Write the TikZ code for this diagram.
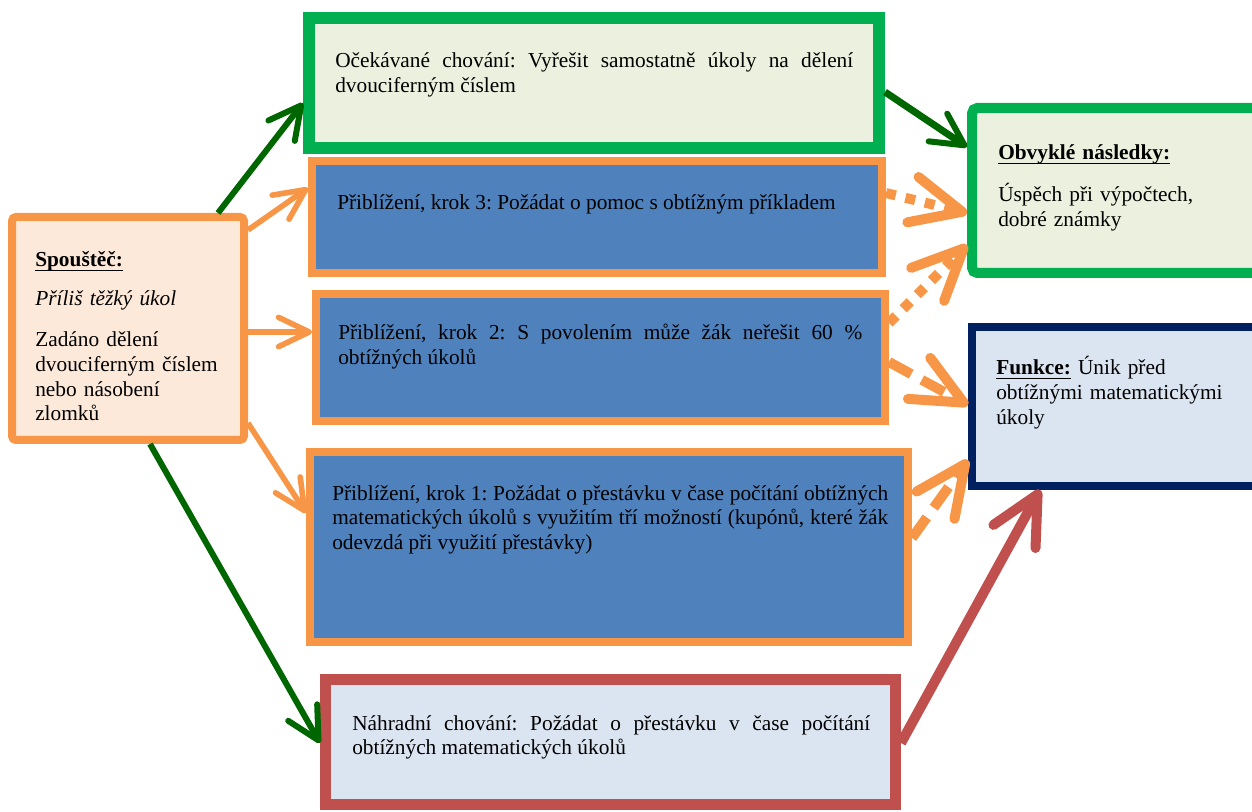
\documentclass[tikz,border=0pt]{standalone}
\usepackage{fontspec}
\setmainfont{Liberation Serif}
\usepackage{tikz}
\usetikzlibrary{arrows.meta}
\usetikzlibrary{fit}
\usetikzlibrary{calc}
\definecolor{boxorange}{RGB}{247,150,70}
\definecolor{boxpeach}{RGB}{253,233,217}
\definecolor{boxgreen}{RGB}{0,176,80}
\definecolor{palegreen}{RGB}{235,241,222}
\definecolor{boxblue}{RGB}{79,129,189}
\definecolor{boxred}{RGB}{192,80,77}
\definecolor{paleblue}{RGB}{219,229,241}
\definecolor{boxnavy}{RGB}{0,32,96}
\definecolor{arrgreen}{RGB}{0,102,0}
\hyphenpenalty=10000
\exhyphenpenalty=10000
\frenchspacing
\newcommand{\headline}[1]{\setbox0\hbox{\textbf{#1}}\rlap{\rule[-3pt]{\wd0}{1.1pt}}\box0\relax}

\tikzset{
  trigbox/.style={draw=boxorange, fill=boxpeach, line width=6pt, rounded corners=3pt, inner sep=0pt},
  goalbox/.style={draw=boxgreen, fill=palegreen, line width=9pt, inner sep=0pt},
  stepbox/.style={draw=boxorange, fill=boxblue, line width=6pt, inner sep=0pt},
  subsbox/.style={draw=boxred, fill=paleblue, line width=8.25pt, inner sep=0pt},
  resultbox/.style={draw=boxgreen, fill=palegreen, line width=7.5pt, rounded corners=4pt, inner sep=0pt},
  funcbox/.style={draw=boxnavy, fill=paleblue, line width=6pt, inner sep=0pt},
  txt/.style={anchor=base west, inner sep=0pt, font=\fontsize{16}{18.5}\selectfont},
  greenarrow/.style={draw=arrgreen, line width=4.5pt, -{Straight Barb[length=24pt,width=25pt,line width=4.5pt,round]}},
  orangearrow/.style={draw=boxorange, line width=4.2pt, -{Straight Barb[length=23pt,width=22pt,line width=4.2pt,round]}},
  dotarrow/.style={draw=boxorange, line width=7.5pt, dash pattern=on 7.5pt off 7.5pt, -{Straight Barb[length=38pt,width=35pt,line width=7.5pt,round]}},
  dasharrow/.style={draw=boxorange, line width=7.5pt, dash pattern=on 19pt off 9pt, -{Straight Barb[length=38pt,width=35pt,line width=7.5pt,round]}},
  redarrow/.style={draw=boxred, line width=7.5pt, -{Straight Barb[length=36pt,width=36pt,line width=7.5pt,round]}}
}

\begin{document}
\begin{tikzpicture}[x=0.75pt,y=0.75pt,yscale=-1,xscale=1]
  \useasboundingbox (0,0) rectangle (1252,812);
  \clip (0,0) rectangle (1252,812);
  %Shape: Rectangle (trigger)
  \node [trigbox, fit={(12,217) (244,440)}] (trig) {};
  %Shape: Rectangle (expected behaviour)
  \node [goalbox, fit={(309,18) (879,148)}] (expect) {};
  %Shape: Rectangle (steps)
  \node [stepbox, fit={(312,161) (882,273)}] (step3) {};
  \node [stepbox, fit={(316,294) (885,421)}] (step2) {};
  \node [stepbox, fit={(310,452) (908,642)}] (step1) {};
  %Shape: Rectangle (replacement behaviour)
  \node [subsbox, fit={(325.5,679.5) (895.5,804.5)}] (subst) {};
  %Shape: Rectangle (consequences)
  \node [resultbox, fit={(972,108) (1262,273)}] (result) {};
  %Shape: Rectangle (function)
  \node [funcbox, fit={(972,327) (1262,486)}] (func) {};

  % Text Node
  \draw (35,267) node [txt, text width=146pt, align=left] (trigtxt) {\headline{Spouštěč:}\\[10.75pt] \textit{Příliš těžký úkol}\\[12.25pt] Zadáno dělení dvouciferným číslem nebo násobení zlomků};
  % Text Node
  \draw (335,68) node [txt, text width=388.5pt, align=justify] (expecttxt) {Očekávané chování: Vyřešit samostatně úkoly na dělení dvouciferným číslem};
  % Text Node
  \draw (337,210) node [txt, text width=405pt, align=justify] (step3txt) {Přiblížení, krok 3: Požádat o pomoc s obtížným příkladem};
  % Text Node
  \draw (338,340) node [txt, text width=393pt, align=justify] (step2txt) {Přiblížení, krok 2: S povolením může žák neřešit 60 \% obtížných úkolů};
  % Text Node
  \draw (332,500) node [txt, text width=417pt, align=justify] (step1txt) {Přiblížení, krok 1: Požádat o přestávku v čase počítání obtížných matematických úkolů s využitím tří možností (kupónů, které žák odevzdá při využití přestávky)};
  % Text Node
  \draw (352,730) node [txt, text width=388.5pt, align=justify] (substtxt) {Náhradní chování: Požádat o přestávku v čase počítání obtížných matematických úkolů};
  % Text Node
  \draw (998,160) node [txt, text width=161pt, align=left] (resulttxt) {\headline{Obvyklé následky:}\\[13pt] Úspěch při výpočtech, dobré známky};
  % Text Node
  \draw (996,375) node [txt, text width=176pt, align=left] (functxt) {\headline{Funkce:} Únik před obtížnými matematickými úkoly};

  %Straight Lines
  \draw [greenarrow] (trig.north -| 218,0) -- (expect.west |- 0,103);
  \draw [orangearrow] (trig.east |- 0,230) -- (step3.west |- 0,188);
  \draw [orangearrow] (trig.east |- 0,332) -- (step2.west |- 0,332);
  \draw [orangearrow] (trig.east |- 0,423) -- (step1.west |- 0,513);
  \draw [greenarrow] (trig.south -| 150,0) -- (subst.west |- 0,743);
  %Straight Lines
  \draw [greenarrow, line width=5.25pt] (expect.east |- 0,92) -- (result.west |- 0,147);
  \draw [dotarrow] (step3.east |- 0,193) -- (result.west |- 0,213);
  \draw [dotarrow] (step2.east |- 0,323) -- (result.west |- 0,245);
  \draw [dasharrow] (step2.east |- 0,362) -- (func.west |- 0,405);
  \draw [dasharrow] (step1.east |- 0,538) -- (func.west |- 0,460);
  \draw [redarrow] (subst.east |- 0,743) -- (func.south -| 1040,0);
\end{tikzpicture}
\end{document}
